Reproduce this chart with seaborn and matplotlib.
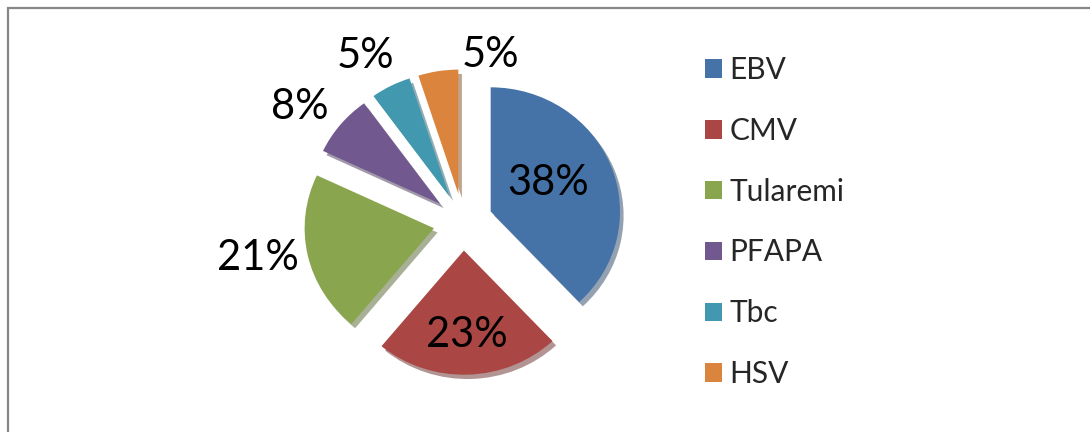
import numpy as np
import matplotlib
matplotlib.use("Agg")
import matplotlib.pyplot as plt
import matplotlib.patches as mpatches
import seaborn as sns

# dados
categorias = ['EBV', 'CMV', 'Tularemi', 'PFAPA', 'Tbc', 'HSV']
percentuais = [38, 23, 21, 8, 5, 5]
cores_hex = ['#4572A7', '#AA4643', '#89A54E', '#71588F', '#4198AF', '#DB843D']

# estilo dos rotulos (distancia radial e ajuste de angulo por fatia)
dist_rotulo = [0.50, 0.65, 1.38, 1.32, 1.265, 1.10]
ajuste_ang = [5, 0, -3, 5, 4, -22]

sns.set_theme(style='white')
plt.rcParams['font.family'] = ['Lato', 'DejaVu Sans']

cores = sns.color_palette(cores_hex)

fig = plt.figure(figsize=(10.9, 4.32), dpi=100)
ax = fig.add_axes([247 / 1090, -6 / 432, 432 / 1090, 432 / 432])

wedges, _ = ax.pie(percentuais, colors=cores, startangle=90, counterclock=False,
                   explode=[0.23] * len(percentuais),
                   shadow={'ox': 0.02, 'oy': -0.025, 'shade': 0.4},
                   wedgeprops={'linewidth': 0})
# leve achatamento vertical, como no grafico 3D original
ax.set_aspect('auto')
ax.set_xlim(-1.67, 1.67)
ax.set_ylim(-1.67 / 0.96, 1.67 / 0.96)

# rotulos de percentual
for w, p, d, a in zip(wedges, percentuais, dist_rotulo, ajuste_ang):
    ang = np.deg2rad((w.theta1 + w.theta2) / 2 + a)
    cx, cy = w.center
    ax.text(cx + d * np.cos(ang), cy + d * np.sin(ang) / 0.96, f'{p}%',
            ha='center', va='center', fontsize=30, color='black')

# legenda
handles = [mpatches.Patch(facecolor=c, edgecolor='none') for c in cores]
fig.legend(handles, categorias, loc='upper left', bbox_to_anchor=(693 / 1090, 1 - 44 / 432),
           frameon=False, fontsize=21.5, handlelength=0.58, handleheight=0.58,
           handletextpad=0.25, labelspacing=1.1, borderaxespad=0)

# moldura
fig.patches.append(mpatches.Rectangle((7.5 / 1090, -0.1), 1.2, 1.1 - 8 / 432,
                                      transform=fig.transFigure, fill=False,
                                      edgecolor='#878787', linewidth=1.6))

fig.savefig('out.png', dpi=100)
